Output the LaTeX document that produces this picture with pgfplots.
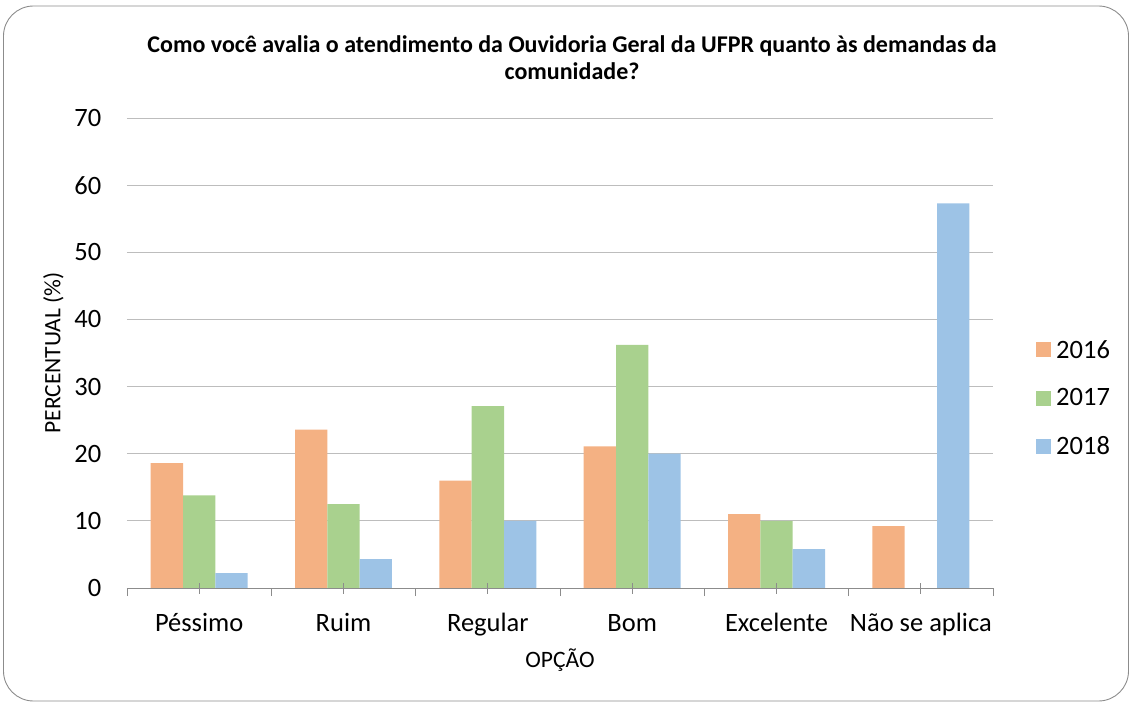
\documentclass[border=0pt]{standalone}
\usepackage{fontspec}
\setmainfont{Carlito}
\usepackage{pgfplots}
\pgfplotsset{compat=1.18}
\definecolor{c16}{HTML}{F4B183}
\definecolor{c17}{HTML}{A9D18E}
\definecolor{c18}{HTML}{9DC3E6}
\definecolor{gridc}{HTML}{BDBDBD}
\definecolor{axc}{HTML}{8C8C8C}
\begin{document}
\begin{tikzpicture}
\begin{axis}[
  name=ax, at={(0pt,0pt)}, anchor=south west,
  axis on top,
  scale only axis, width=866pt, height=470pt,
  xmin=-0.5, xmax=5.5, ymin=0, ymax=70,
  ybar=0pt, bar width=0.224,
  axis x line*=bottom, axis y line*=left,
  y axis line style={draw=none},
  x axis line style={axc, line width=0.9pt},
  xtick={0,1,2,3,4,5},
  xticklabels={Péssimo,Ruim,Regular,Bom,Excelente,Não se aplica},
  x tick style={axc, line width=0.9pt},
  tick align=center, major tick length=11pt,
  extra x ticks={-0.5,0.5,1.5,2.5,3.5,4.5,5.5},
  extra x tick labels={},
  extra x tick style={tick align=outside, major tick length=8pt, grid=none},
  ytick={0,10,...,70},
  y tick style={draw=none},
  tick label style={font=\fontsize{26.5}{32}\selectfont},
  /pgf/number format/assume math mode=true,
  xticklabel style={anchor=base, yshift=-38pt, inner sep=0pt},
  yticklabel style={anchor=east, inner sep=0pt, xshift=-20pt},
  xlabel={OPÇÃO}, ylabel={PERCENTUAL (\%)},
  label style={font=\fontsize{23.5}{28}\selectfont},
  xlabel style={at={(axis description cs:0.5,-0.153)}, anchor=center},
  ylabel style={at={(axis description cs:-0.085,0.5)}, anchor=center},
  legend style={at={(rel axis cs:1.0497,0.404)}, anchor=west, draw=none, fill=none,
    font=\fontsize{26.5}{32}\selectfont, row sep=25pt, inner sep=0pt,
    /tikz/every odd column/.append style={column sep=3pt}},
  legend cell align=left,
  legend image code/.code={\fill[#1] (0pt,-7.5pt) rectangle (15pt,7.5pt);},
]
\pgfplotsinvokeforeach{10,20,30,40,50,60,70}{
  \draw[gridc, line width=0.9pt] (axis cs:-0.5,#1) -- (axis cs:5.5,#1);
}
\addplot[fill=c16, draw=none] coordinates {(0,18.6) (1,23.6) (2,16.0) (3,21.1) (4,11.0) (5,9.2)};
\addplot[fill=c17, draw=none] coordinates {(0,13.8) (1,12.5) (2,27.1) (3,36.2) (4,10.0)};
\addplot[fill=c18, draw=none] coordinates {(0,2.2) (1,4.3) (2,10.0) (3,20.0) (4,5.8) (5,57.3)};
\legend{2016,2017,2018}
\end{axis}
\begin{scope}[shift={(ax.south west)}, x=1pt, y=1pt]
\draw[color=axc, line width=0.9pt, rounded corners=30pt] (-123.5,-113) rectangle (1001.5,582);
\node[font=\fontsize{24}{27}\selectfont\bfseries, align=center] at (445,530)
  {Como você avalia o atendimento da Ouvidoria Geral da UFPR quanto às demandas da\\comunidade?};
\pgfresetboundingbox
\useasboundingbox (-127,-117) rectangle (1005,588);
\end{scope}
\end{tikzpicture}
\end{document}
